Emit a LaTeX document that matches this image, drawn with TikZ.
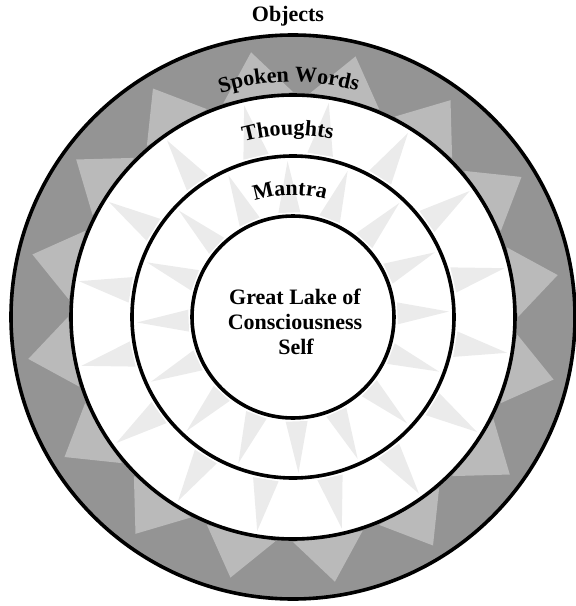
\documentclass[tikz,border=0pt]{standalone}
\usepackage{fontspec}
\setmainfont{Liberation Serif}
\usetikzlibrary{decorations.text}
\newcommand\lbfont{\fontsize{22}{25}\selectfont\bfseries}
\begin{document}
\begin{tikzpicture}[x=1pt,y=1pt,
  ring/.style={draw=black, line width=3.6pt},
  lbl/.style={font=\lbfont, inner sep=0pt},
  band/.style={fill=black!42},
  spike/.style={fill=black!27},
  ray/.style={fill=black!8},
  arclabel/.style={decorate, decoration={text along path, text align=center, text={|\lbfont|#1}}}]
\useasboundingbox (-293,-289) rectangle (283,317);
% grey outer band
\fill[band, even odd rule] (0,0) circle[radius=282] (0,0) circle[radius=222];
% light spikes in the grey band
\foreach \a in {9,31.5,...,360}{
  \fill[spike] ({\a-9}:225) -- ({\a}:268) -- ({\a+9}:225) -- cycle;
}
% rays in the thoughts band
\foreach \a in {13,35.5,...,360}{
  \fill[ray] ({\a-4.5}:165) -- ({\a}:217) -- ({\a+4.5}:165) -- cycle;
}
% rays in the mantra band
\foreach \a in {2,24.5,...,360}{
  \fill[ray] ({\a-6}:105) -- ({\a}:156) -- ({\a+6}:105) -- cycle;
}
% rings
\draw[ring] (0,0) circle[radius=282];
\draw[ring] (0,0) circle[radius=222];
\draw[ring] (0,0) circle[radius=161];
\draw[ring] (0,0) circle[radius=101];
% labels
\node[lbl, anchor=base] (objects) at (-5,296) {Objects};
\path[arclabel={Spoken Words}] (182:235) arc[start angle=182, end angle=0, radius=235];
\path[arclabel={Thoughts}] (183.2:182) arc[start angle=183.2, end angle=0, radius=182];
\path[arclabel={Mantra}] (182.8:122) arc[start angle=182.8, end angle=0, radius=122];
\node[lbl, anchor=base] (lake1) at (2,13) {Great Lake of};
\node[lbl, anchor=base] (lake2) at (2,-12) {Consciousness};
\node[lbl, anchor=base] (lake3) at (3,-37) {Self};
\end{tikzpicture}
\end{document}
